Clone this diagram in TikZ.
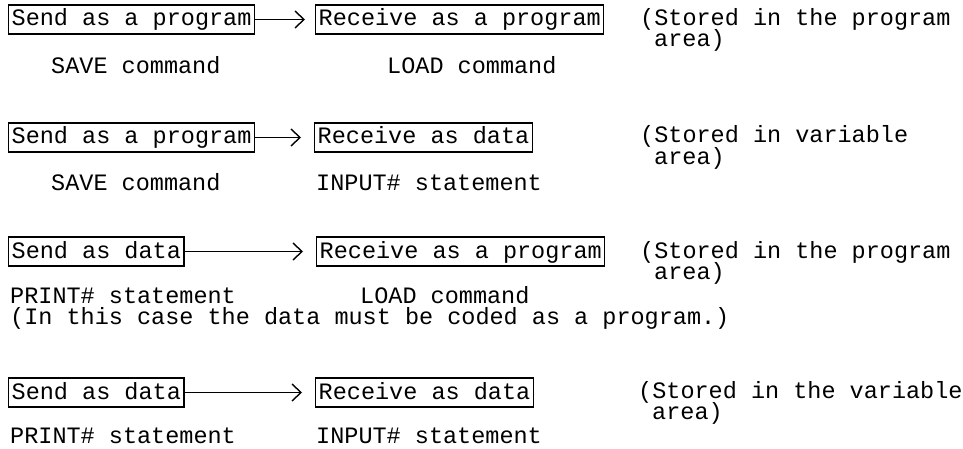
\documentclass[tikz,border=0pt]{standalone}
\usepackage{fontspec}
\setmonofont{Liberation Mono}
\usetikzlibrary{arrows.meta}
\newcommand{\lblfont}{\fontsize{23.5pt}{21pt}\selectfont\ttfamily}
\tikzset{
  sendbox/.style={draw, line width=1.4pt, inner xsep=3pt, inner ysep=0pt,
    text height=21pt, text depth=8pt, anchor=base west, font=\lblfont},
  lbl/.style={inner sep=0pt, anchor=base west, font=\lblfont,
    text height=15pt, text depth=5pt},
  arr/.style={line width=1.3pt, -{Straight Barb[length=9pt,width=17pt,line width=1.4pt]}}
}
\begin{document}
\begin{tikzpicture}[x=1pt,y=-1pt]
\useasboundingbox (0,0) rectangle (963,449);
% Row 1
\node[sendbox] (a1) at (8,26) {Send as a program};
\node[sendbox] (b1) at (315,26) {Receive as a program};
\draw[arr, shorten >=10pt] (a1.east) -- (b1.west);
\node[lbl] (s1) at (640,26) {(Stored in the program};
\node[lbl] (r1) at (654,47) {area)};
\node[lbl] (c1) at (51,74) {SAVE command};
\node[lbl] (d1) at (387,74) {LOAD command};
% Row 2
\node[sendbox] (a2) at (8,144) {Send as a program};
\node[sendbox] (b2) at (314,144) {Receive as data~};
\draw[arr, shorten >=13pt] (a2.east) -- (b2.west);
\node[lbl] (s2) at (640,143) {(Stored in variable};
\node[lbl] (r2) at (654,165) {area)};
\node[lbl] (c2) at (51,190) {SAVE command};
\node[lbl] (d2) at (316,190) {INPUT\# statement};
% Row 3
\node[sendbox] (a3) at (8,258) {Send as data};
\node[sendbox] (b3) at (316,258) {Receive as a program};
\draw[arr, shorten >=13pt] (a3.east) -- (b3.west);
\node[lbl] (s3) at (640,258) {(Stored in the program};
\node[lbl] (r3) at (654,279) {area)};
\node[lbl] (c3) at (10,303) {PRINT\# statement};
\node[lbl] (d3) at (360,303) {LOAD command};
\node[lbl] (n3) at (10,324) {(In this case the data must be coded as a program.)};
% Row 4
\node[sendbox] (a4) at (8,399) {Send as data};
\node[sendbox] (b4) at (315,399) {Receive as data~};
\draw[arr, shorten >=13pt] (a4.east) -- (b4.west);
\node[lbl] (s4) at (638,398) {(Stored in the variable};
\node[lbl] (r4) at (652,419) {area)};
\node[lbl] (c4) at (10,443) {PRINT\# statement};
\node[lbl] (d4) at (316,443) {INPUT\# statement};
\end{tikzpicture}
\end{document}
